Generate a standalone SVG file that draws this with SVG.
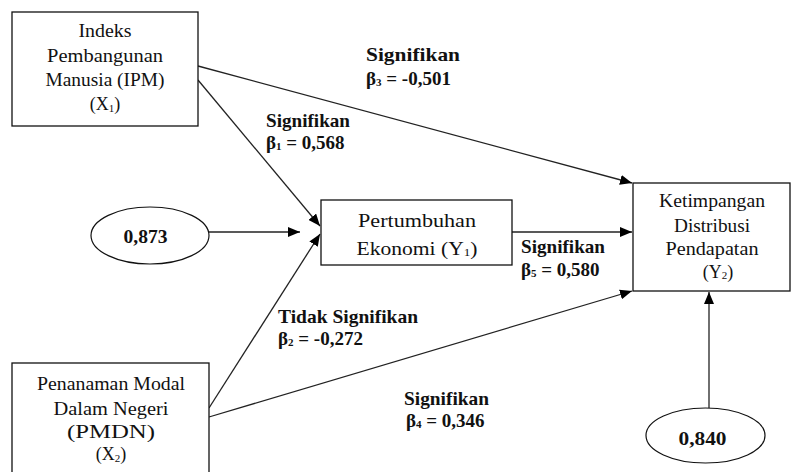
<svg xmlns="http://www.w3.org/2000/svg" width="791" height="472" viewBox="0 0 791 472">
<style>
.box{fill:#fff;stroke:#111;stroke-width:1.3}
.ell{fill:#fff;stroke:#111;stroke-width:1.2}
.t{font-family:"Liberation Serif","Times New Roman",serif;font-size:18px;fill:#111;text-anchor:middle}
.b{font-family:"Liberation Serif","Times New Roman",serif;font-size:19px;font-weight:bold;fill:#111}
.bc{text-anchor:middle}
.sub{font-size:11px}
.ln{fill:none;stroke:#222;stroke-width:1.3}
</style>
<defs>
<marker id="ah" viewBox="0 0 12 10" refX="12" refY="5" markerWidth="12" markerHeight="10" orient="auto" markerUnits="userSpaceOnUse">
<path d="M0,0 L12,5 L0,10 z" fill="#000"/>
</marker>
</defs>
<rect width="791" height="472" fill="#fff"/>

<g id="connectors">
<line class="ln" x1="198" y1="66" x2="632" y2="183" marker-end="url(#ah)"/>
<line class="ln" x1="198" y1="80" x2="320" y2="226" marker-end="url(#ah)"/>
<line class="ln" x1="209" y1="232" x2="300" y2="232" marker-end="url(#ah)"/>
<line class="ln" x1="209" y1="408" x2="320" y2="234" marker-end="url(#ah)"/>
<line class="ln" x1="209" y1="417" x2="632" y2="291" marker-end="url(#ah)"/>
<line class="ln" x1="512" y1="232" x2="632" y2="232" marker-end="url(#ah)"/>
<line class="ln" x1="709" y1="408" x2="709" y2="292" marker-end="url(#ah)"/>
</g>

<g id="x1">
<rect class="box" x="12" y="12" width="186" height="114"/>
<text class="t" x="105" y="37" textLength="53" lengthAdjust="spacingAndGlyphs">Indeks</text>
<text class="t" x="105" y="62" textLength="116" lengthAdjust="spacingAndGlyphs">Pembangunan</text>
<text class="t" x="105" y="86" textLength="119" lengthAdjust="spacingAndGlyphs">Manusia (IPM)</text>
<text class="t" x="105" y="110">(X<tspan class="sub" dy="2">1</tspan><tspan dy="-2">)</tspan></text>
</g>

<g id="x2">
<rect class="box" x="12" y="363" width="197" height="112"/>
<text class="t" x="111" y="390" textLength="148" lengthAdjust="spacingAndGlyphs">Penanaman Modal</text>
<text class="t" x="111" y="415" textLength="115" lengthAdjust="spacingAndGlyphs">Dalam Negeri</text>
<text class="t" x="111" y="438" textLength="88" lengthAdjust="spacingAndGlyphs">(PMDN)</text>
<text class="t" x="111" y="460">(X<tspan class="sub" dy="2">2</tspan><tspan dy="-2">)</tspan></text>
</g>

<g id="y1">
<rect class="box" x="321" y="200" width="191" height="65"/>
<text class="t" x="417" y="227" textLength="118" lengthAdjust="spacingAndGlyphs">Pertumbuhan</text>
<text class="t" x="417" y="255" textLength="121" lengthAdjust="spacingAndGlyphs">Ekonomi (Y<tspan class="sub" dy="1">1</tspan><tspan dy="-1">)</tspan></text>
</g>

<g id="y2">
<rect class="box" x="633" y="183" width="157" height="108"/>
<text class="t" x="712" y="207" textLength="106" lengthAdjust="spacingAndGlyphs">Ketimpangan</text>
<text class="t" x="712" y="232" textLength="76" lengthAdjust="spacingAndGlyphs">Distribusi</text>
<text class="t" x="712" y="255" textLength="93" lengthAdjust="spacingAndGlyphs">Pendapatan</text>
<text class="t" x="718" y="278">(Y<tspan class="sub" dy="1">2</tspan><tspan dy="-1">)</tspan></text>
</g>

<g id="e1">
<ellipse class="ell" cx="150" cy="235.5" rx="59" ry="28.5"/>
<text class="b bc" x="145.5" y="243" textLength="44" lengthAdjust="spacingAndGlyphs">0,873</text>
</g>

<g id="e2">
<ellipse class="ell" cx="705.5" cy="435.5" rx="59.5" ry="27.5"/>
<text class="b bc" x="702.5" y="445" textLength="48" lengthAdjust="spacingAndGlyphs">0,840</text>
</g>

<g id="labels">
<text class="b" x="366" y="60.5" textLength="94" lengthAdjust="spacingAndGlyphs">Signifikan</text>
<text class="b" x="366" y="85">β<tspan class="sub" dy="1">3</tspan><tspan dy="-1"> = -0,501</tspan></text>
<text class="b" x="266" y="126.5" textLength="84" lengthAdjust="spacingAndGlyphs">Signifikan</text>
<text class="b" x="266" y="149">β<tspan class="sub" dy="1">1</tspan><tspan dy="-1"> = 0,568</tspan></text>
<text class="b" x="278" y="322.5" textLength="140" lengthAdjust="spacingAndGlyphs">Tidak Signifikan</text>
<text class="b" x="278" y="345">β<tspan class="sub" dy="1">2</tspan><tspan dy="-1"> = -0,272</tspan></text>
<text class="b" x="404" y="405" textLength="85" lengthAdjust="spacingAndGlyphs">Signifikan</text>
<text class="b" x="406" y="427">β<tspan class="sub" dy="1">4</tspan><tspan dy="-1"> = 0,346</tspan></text>
<text class="b" x="521" y="253" textLength="84" lengthAdjust="spacingAndGlyphs">Signifikan</text>
<text class="b" x="521" y="276">β<tspan class="sub" dy="1">5</tspan><tspan dy="-1"> = 0,580</tspan></text>
</g>
</svg>
